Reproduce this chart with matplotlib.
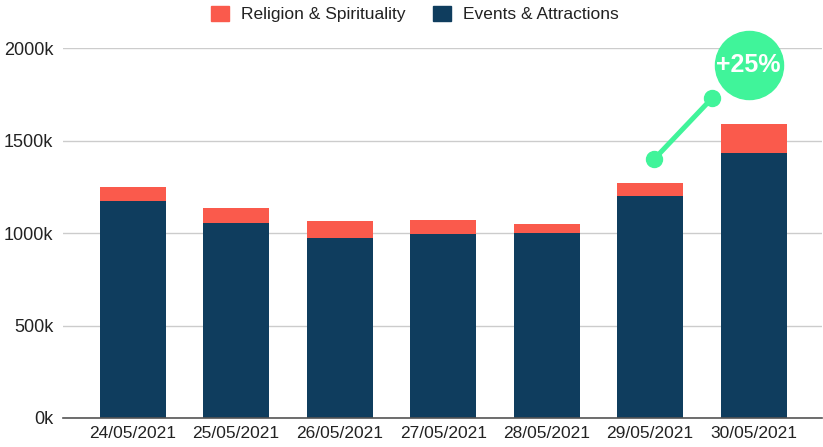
import matplotlib
matplotlib.use("Agg")
import matplotlib.pyplot as plt
from matplotlib.patches import Patch
import numpy as np

dates = ["24/05/2021", "25/05/2021", "26/05/2021", "27/05/2021",
         "28/05/2021", "29/05/2021", "30/05/2021"]
events = [1175, 1052, 971, 995, 1002, 1198, 1435]
religion = [72, 81, 94, 77, 47, 71, 154]
yticks = [0, 500, 1000, 1500, 2000]
ytick_labels = ["0k", "500k", "1000k", "1500k", "2000k"]
growth_label = "+25%"

RED = "#FA5A4C"
NAVY = "#0F3D5E"
GREEN = "#40F49A"

plt.rcParams['font.family'] = ['Liberation Sans', 'DejaVu Sans']

fig = plt.figure(figsize=(8.23, 4.47), dpi=100)
ax = fig.add_axes([63/823, 29/447, (822-63)/823, (418-48)/447])

x = np.arange(len(dates))
ax.bar(x, events, width=0.635, color=NAVY, zorder=3)
ax.bar(x, religion, width=0.635, bottom=events, color=RED, zorder=3)

ax.set_xlim(-0.673, 6.66)
ax.set_ylim(0, 2000)
ax.set_yticks(yticks)
ax.set_yticklabels(ytick_labels)
ax.set_xticks(x)
ax.set_xticklabels(dates)
ax.tick_params(axis='both', length=0, colors="#222222")
ax.tick_params(axis='y', pad=7, labelsize=13)
ax.tick_params(axis='x', pad=6, labelsize=12.5)
ax.grid(axis='y', color="#CCCCCC", linewidth=1.0, zorder=0)
for s in ["top", "right", "left"]:
    ax.spines[s].set_visible(False)
ax.spines["bottom"].set_color("#555555")
ax.spines["bottom"].set_linewidth(1.2)
ax.spines["bottom"].set_zorder(4)

# growth annotation
ax.plot([5.04, 5.60], [1400, 1730], color=GREEN, linewidth=3.6,
        solid_capstyle='round', zorder=5, clip_on=False)
ax.plot([5.04, 5.60], [1400, 1730], 'o', color=GREEN, markersize=11.5,
        zorder=6, clip_on=False)
ax.plot([5.95], [1908], 'o', color=GREEN, markersize=49, zorder=6, clip_on=False)
ax.text(5.95, 1908, growth_label, color="white", fontsize=18, fontweight="bold",
        ha="center", va="center", zorder=7)

handles = [Patch(facecolor=RED, edgecolor=RED), Patch(facecolor=NAVY, edgecolor=NAVY)]
fig.legend(handles, ["Religion & Spirituality", "Events & Attractions"],
           loc="center", bbox_to_anchor=(415/823, 1 - 14/447), ncol=2,
           frameon=False, fontsize=12.5, handlelength=1.0, handleheight=1.0,
           handletextpad=0.7, columnspacing=1.6, labelcolor="#222222")

fig.savefig("out.png", dpi=100)
